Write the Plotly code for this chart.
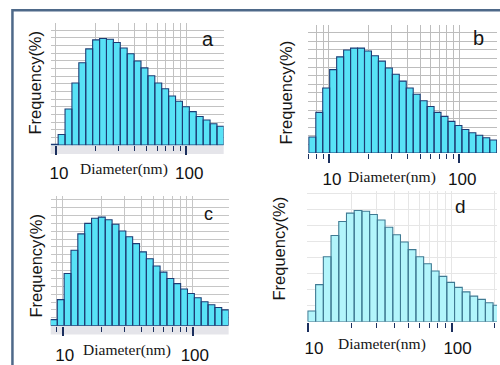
import plotly.graph_objects as go

# ---------------- data ----------------
# bin edges (nm) and frequency (%) for each sample
edges_a = [9.20, 10.40, 11.75, 13.27, 14.99, 16.94, 19.14, 21.63, 24.44, 27.61, 31.20,
           35.25, 39.83, 45.00, 50.85, 57.45, 64.92, 73.35, 82.88, 93.64, 105.8,
           119.5, 135.1, 152.6, 172.4, 194.8]
freq_a = [0.06, 0.70, 2.36, 4.06, 5.38, 6.28, 6.87, 6.96, 6.91, 6.70, 6.34, 5.96, 5.49,
          5.04, 4.53, 4.06, 3.68, 3.21, 2.87, 2.51, 2.19, 1.87, 1.64, 1.40, 1.23]

edges_b = [7.00, 7.92, 8.95, 10.12, 11.45, 12.95, 14.64, 16.56, 18.73, 21.18, 23.95,
           27.09, 30.63, 34.64, 39.18, 44.31, 50.11, 56.67, 64.08, 72.47, 81.96,
           92.69, 104.8, 118.5, 134.1, 151.6, 171.5, 193.9]
freq_b = [0.93, 2.36, 3.78, 4.85, 5.59, 5.99, 6.10, 6.10, 5.93, 5.65, 5.34, 4.94, 4.58,
          4.18, 3.78, 3.42, 3.04, 2.70, 2.36, 2.13, 1.84, 1.60, 1.37, 1.18, 1.03, 0.89, 0.76]

edges_c = [8.05, 9.09, 10.26, 11.58, 13.07, 14.76, 16.66, 18.81, 21.23, 23.97, 27.06,
           30.55, 34.48, 38.93, 43.94, 49.61, 56.00, 63.22, 71.37, 80.57, 90.95,
           102.7, 115.9, 130.8, 147.7, 166.7, 188.2]
freq_c = [0.38, 1.65, 3.31, 4.79, 5.83, 6.50, 6.83, 6.90, 6.73, 6.44, 6.02, 5.65, 5.21,
          4.69, 4.25, 3.79, 3.40, 3.00, 2.67, 2.33, 2.04, 1.77, 1.52, 1.33, 1.15, 1.00]

edges_d = [10.0, 11.32, 12.81, 14.49, 16.40, 18.56, 21.00, 23.76, 26.89, 30.43, 34.43,
           38.97, 44.09, 49.90, 56.46, 63.89, 72.30, 81.82, 92.59, 104.8, 118.6,
           134.2, 151.8, 171.8, 194.4, 220.0]
freq_d = [0.67, 2.31, 4.04, 5.37, 6.24, 6.76, 6.92, 6.88, 6.67, 6.33, 5.88, 5.41, 4.96,
          4.49, 4.04, 3.61, 3.16, 2.82, 2.45, 2.14, 1.86, 1.59, 1.39, 1.18, 1.02]

panel_labels = ["a", "b", "c", "d"]
major_ticks = [10, 100]
major_text = ["10", "100"]
minor_ticks = [7, 8, 9, 20, 30, 40, 50, 60, 70, 80, 90, 200]
x_title = "Diameter(nm)"
y_title = "Frequency(%)"

# ---------------- styling / layout ----------------
W, H = 500, 365
def px(x): return x / W
def py(y): return 1 - y / H

panels = [
    dict(edges=edges_a, freq=freq_a, xd=(48, 222), yd=(148, 23), xr=(0.960, 2.288), yr=(0, 8.0), dt=0.5,
         fill="#58E2F6", line="#1D3C74", grid="#C2C2C2", band=True, shift=3, stand=3,
         ftxt=(32.7, 84.7), dtxt=(121.7, 172.7), ltxt=(206.7, 39.3), lsize=20),
    dict(edges=edges_b, freq=freq_b, xd=(307, 497), yd=(156, 25), xr=(0.840, 2.290), yr=(0, 7.47), dt=0.5,
         fill="#58E2F6", line="#1D3C74", grid="#BDBDBD", band=False, shift=3, stand=2,
         ftxt=(285, 94), dtxt=(391.7, 180), ltxt=(478, 38.5), lsize=20),
    dict(edges=edges_c, freq=freq_c, xd=(48, 227), yd=(332, 200), xr=(0.908, 2.275), yr=(0, 8.23), dt=0.5,
         fill="#58E2F6", line="#1D3C74", grid="#C6C6C6", band=True, shift=2, stand=5,
         ftxt=(33, 271), dtxt=(125, 356.5), ltxt=(207, 218.5), lsize=18),
    dict(edges=edges_d, freq=freq_d, xd=(306, 497), yd=(328, 195), xr=(0.995, 2.316), yr=(0, 8.12), dt=1.0,
         fill="#B2F5FB", line="#3F7A93", grid="#E6E6E6", band=False, shift=6, stand=2,
         ftxt=(278, 253), dtxt=(380.8, 350.7), ltxt=(460, 211), lsize=19),
]

fig = go.Figure()
layout = dict(width=W, height=H, margin=dict(l=0, r=0, t=0, b=0),
              paper_bgcolor="white", plot_bgcolor="white", showlegend=False,
              shapes=[], annotations=[])

tick_col = "#1B2F5E"
for i, p in enumerate(panels):
    n = "" if i == 0 else str(i + 1)
    xs, ys = [], []
    for k, f in enumerate(p["freq"]):
        x0, x1 = p["edges"][k], p["edges"][k + 1]
        xs += [x0, x0, x1, x1, x0, None]
        ys += [0, f, f, 0, 0, None]
    fig.add_trace(go.Scatter(x=xs, y=ys, mode="lines", fill="toself",
                             fillcolor=p["fill"], line=dict(color=p["line"], width=1.1),
                             xaxis="x" + n, yaxis="y" + n, hoverinfo="skip"))
    layout["xaxis" + n] = dict(
        type="log", domain=[px(p["xd"][0]), px(p["xd"][1])], range=list(p["xr"]),
        anchor="y" + n, tickmode="array", tickvals=major_ticks, ticktext=major_text,
        ticks="outside", ticklen=9, tickwidth=1.5, tickcolor=tick_col,
        showgrid=True, gridcolor=p["grid"], gridwidth=1, zeroline=False, showline=False,
        tickfont=dict(family="Liberation Sans, Arial", size=17, color="#111111"),
        ticklabelstandoff=p["stand"], ticklabelshift=p["shift"],
        minor=dict(tickmode="array", tickvals=minor_ticks, ticks="outside", ticklen=5,
                   tickwidth=1.3, tickcolor=tick_col, showgrid=True, gridcolor=p["grid"], gridwidth=1),
        fixedrange=True)
    layout["yaxis" + n] = dict(
        domain=[py(p["yd"][0]), py(p["yd"][1])], range=list(p["yr"]), anchor="x" + n,
        dtick=p["dt"], tick0=0, showgrid=True, gridcolor=p["grid"], gridwidth=1,
        showticklabels=False, ticks="", zeroline=False, showline=False, fixedrange=True)
    if p["band"]:
        layout["shapes"].append(dict(type="rect", xref="x" + n + " domain", yref="paper",
                                     x0=0, x1=1, y0=py(p["yd"][0] + 9), y1=py(p["yd"][0]),
                                     fillcolor="#E5E5EA", line=dict(width=0), layer="below"))
    layout["annotations"] += [
        dict(text=y_title, x=px(p["ftxt"][0]), y=py(p["ftxt"][1]), xref="paper", yref="paper",
             textangle=-90, showarrow=False, xanchor="center", yanchor="middle",
             font=dict(family="Liberation Sans, Arial", size=16.5, color="#151515")),
        dict(text=x_title, x=px(p["dtxt"][0]), y=py(p["dtxt"][1]), xref="paper", yref="paper",
             showarrow=False, xanchor="center", yanchor="middle",
             font=dict(family="Liberation Serif, Times New Roman", size=15.5, color="#151515")),
        dict(text=panel_labels[i], x=px(p["ltxt"][0]), y=py(p["ltxt"][1]), xref="paper", yref="paper",
             showarrow=False, xanchor="center", yanchor="middle",
             font=dict(family="Liberation Sans, Arial", size=p["lsize"], color="#151515")),
    ]

# outer frame
layout["shapes"].append(dict(type="rect", xref="paper", yref="paper",
                             x0=px(9.5), x1=1.05, y0=-0.05, y1=py(10.5),
                             line=dict(color="#4E6989", width=2.5), fillcolor="rgba(0,0,0,0)"))

fig.update_layout(**layout)
fig.write_html("out.html")
